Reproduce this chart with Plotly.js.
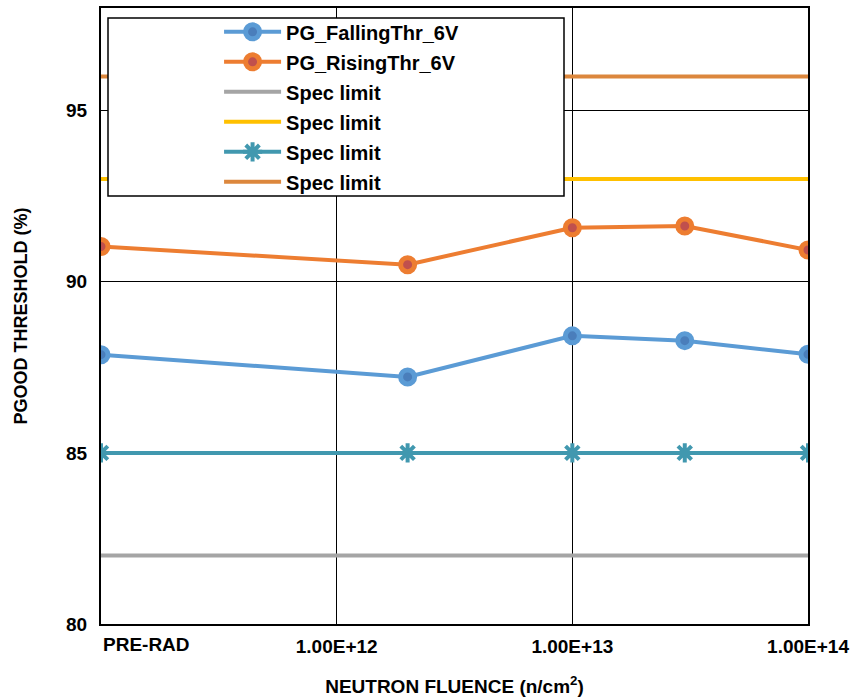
<!DOCTYPE html>
<html>
<head>
<meta charset="utf-8">
<script src="https://cdn.plot.ly/plotly-3.0.1.min.js"></script>
<style>html,body{margin:0;padding:0;background:#fff;}#chart{width:853px;height:699px;}</style>
</head>
<body>
<div id="chart"></div>
<script>
// Data
const fluence = [1e11, 2e12, 1e13, 3e13, 1e14]; // 1e11 stands for PRE-RAD
const fallingThr = [87.87, 87.22, 88.42, 88.28, 87.88];
const risingThr = [91.03, 90.50, 91.58, 91.63, 90.93];
const specGray = [82, 82, 82, 82, 82];
const specYellow = [93, 93, 93, 93, 93];
const specTeal = [85, 85, 85, 85, 85];
const specBrown = [96, 96, 96, 96, 96];
const xTickVals = [1e12, 1e13, 1e14];
const xTickText = ['1.00E+12', '1.00E+13', '1.00E+14'];
const yTickVals = [80, 85, 90, 95];
const preRadLabel = 'PRE-RAD';
const seriesNames = ['PG_FallingThr_6V', 'PG_RisingThr_6V', 'Spec limit', 'Spec limit', 'Spec limit', 'Spec limit'];

const FONT = 'Arial, "Liberation Sans", sans-serif';

const traces = [
  {x: fluence, y: fallingThr, name: seriesNames[0], mode: 'lines+markers', legendgroup: 'a',
   line: {color: '#5B9BD5', width: 4},
   marker: {symbol: 'circle', size: 14, color: '#4A7EBB', line: {color: '#5B9BD5', width: 5}}},
  {x: fluence, y: risingThr, name: seriesNames[1], mode: 'lines+markers', legendgroup: 'b',
   line: {color: '#ED7D31', width: 4},
   marker: {symbol: 'circle', size: 14, color: '#C0504D', line: {color: '#ED7D31', width: 5}}},
  {x: fluence, y: specGray, name: seriesNames[2], mode: 'lines', legendgroup: 'c',
   line: {color: '#A5A5A5', width: 4}},
  {x: fluence, y: specYellow, name: seriesNames[3], mode: 'lines', legendgroup: 'd',
   line: {color: '#FFC000', width: 4}},
  {x: fluence, y: specTeal, name: seriesNames[4], mode: 'lines+markers', legendgroup: 'e',
   line: {color: '#4198AF', width: 4},
   marker: {symbol: 'asterisk-open', size: 16, color: '#4198AF', line: {color: '#4198AF', width: 4}}},
  {x: fluence, y: specBrown, name: seriesNames[5], mode: 'lines', legendgroup: 'f',
   line: {color: '#DC873D', width: 4}}
];

const layout = {
  width: 853, height: 699,
  margin: {l: 101, r: 45, t: 8, b: 75},
  paper_bgcolor: '#ffffff', plot_bgcolor: '#ffffff',
  font: {family: FONT, color: '#000', size: 18},
  showlegend: true,
  legend: {
    x: 0.167, y: 0.993, xanchor: 'left', yanchor: 'top',
    bgcolor: 'rgba(0,0,0,0)', borderwidth: 0,
    font: {family: FONT, size: 20, color: '#000', weight: 'bold'},
    traceorder: 'grouped', tracegroupgap: 1, itemwidth: 57
  },
  xaxis: {
    type: 'log', range: [11, 14],
    tickvals: xTickVals, ticktext: xTickText, ticks: '',
    tickfont: {family: FONT, size: 19, weight: 'bold', color: '#000'},
    ticklabelstandoff: 4,
    showgrid: true, gridcolor: '#000', gridwidth: 1,
    showline: true, linecolor: '#000', linewidth: 2, mirror: true,
    zeroline: false,
    title: {text: 'NEUTRON FLUENCE (n/cm<sup>2</sup>)', font: {family: FONT, size: 19, weight: 'bold', color: '#000'}, standoff: 24}
  },
  yaxis: {
    range: [80, 98], tickvals: yTickVals, ticks: '',
    tickfont: {family: FONT, size: 19, weight: 'bold', color: '#000'},
    ticklabelstandoff: 8,
    showgrid: true, gridcolor: '#000', gridwidth: 1,
    showline: true, linecolor: '#000', linewidth: 2, mirror: true,
    zeroline: false,
    title: {text: 'PGOOD THRESHOLD (%)', font: {family: FONT, size: 18, weight: 'bold', color: '#000'}, standoff: 34}
  },
  shapes: [{
    type: 'rect', xref: 'paper', yref: 'paper', layer: 'above',
    x0: (108 - 101) / 707, x1: (564 - 101) / 707,
    y0: 1 - (196 - 8) / 616, y1: 1 - (18 - 8) / 616,
    fillcolor: '#ffffff', line: {color: '#000', width: 1.5}
  }],
  annotations: [{
    x: 11, y: 0, xref: 'x', yref: 'paper', text: preRadLabel, showarrow: false,
    xanchor: 'left', yanchor: 'top', yshift: -8,
    font: {family: FONT, size: 19, weight: 'bold', color: '#000'}
  }]
};

Plotly.newPlot('chart', traces, layout, {displayModeBar: false, responsive: false});
</script>
</body>
</html>
